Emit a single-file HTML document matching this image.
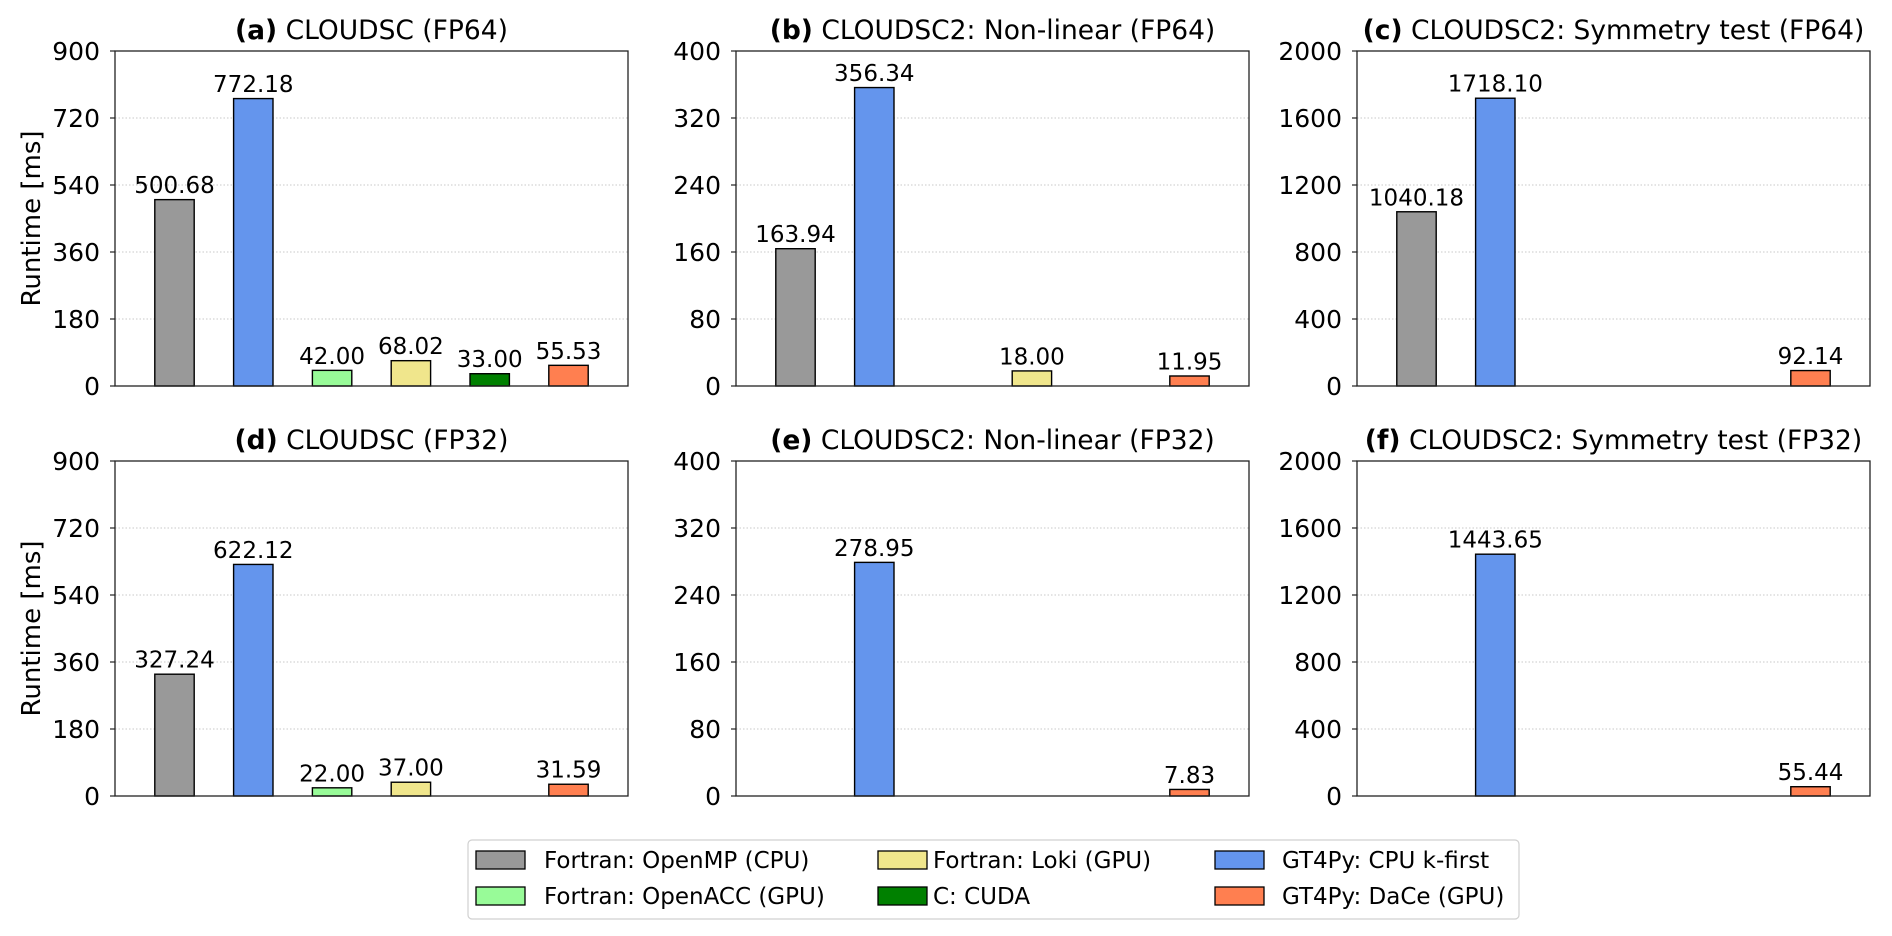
<!DOCTYPE html>
<html><head><meta charset="utf-8"><style>
html,body{margin:0;padding:0;background:#fff;}
svg{display:block;font-family:"DejaVu Sans","Liberation Sans",sans-serif;}
</style></head><body>
<svg id="chart" width="1892" height="936" viewBox="0 0 1892 936" xmlns="http://www.w3.org/2000/svg"></svg>
<script>
const seriesNames = ["Fortran: OpenMP (CPU)","GT4Py: CPU k-first","Fortran: OpenACC (GPU)","Fortran: Loki (GPU)","C: CUDA","GT4Py: DaCe (GPU)"];
const seriesColors = ["#999999","#6495ED","#98FB98","#F0E68C","#008000","#FF7F50"];
const panelTitlesBold = ["(a)","(b)","(c)","(d)","(e)","(f)"];
const panelTitles = ["CLOUDSC (FP64)","CLOUDSC2: Non-linear (FP64)","CLOUDSC2: Symmetry test (FP64)","CLOUDSC (FP32)","CLOUDSC2: Non-linear (FP32)","CLOUDSC2: Symmetry test (FP32)"];
const valuesA = [500.68, 772.18, 42.00, 68.02, 33.00, 55.53];
const valuesB = [163.94, 356.34, null, 18.00, null, 11.95];
const valuesC = [1040.18, 1718.10, null, null, null, 92.14];
const valuesD = [327.24, 622.12, 22.00, 37.00, null, 31.59];
const valuesE = [null, 278.95, null, null, null, 7.83];
const valuesF = [null, 1443.65, null, null, null, 55.44];
const ticks900 = [0,180,360,540,720,900];
const ticks400 = [0,80,160,240,320,400];
const ticks2000 = [0,400,800,1200,1600,2000];

const panelValues = [valuesA,valuesB,valuesC,valuesD,valuesE,valuesF];
const panelTicks = [ticks900,ticks400,ticks2000,ticks900,ticks400,ticks2000];
const NS = "http://www.w3.org/2000/svg";
const svg = document.getElementById('chart');
function mk(tag, attrs, parent){const e=document.createElementNS(NS,tag);for(const k in attrs)e.setAttribute(k,attrs[k]);(parent||svg).appendChild(e);return e;}

const lefts=[115,736,1357], tops=[51,461], W=513, H=335;
panelValues.forEach((vals,p)=>{
  const x0=lefts[p%3], y0=tops[Math.floor(p/3)];
  const tk=panelTicks[p], ymax=tk[tk.length-1];
  const g=mk('g',{});
  
  
  const yS=v=>y0+H-v/ymax*H;
  const xS=i=>x0+(i+0.755)/6.51*W;
  const bw=0.5/6.51*W;
  tk.forEach(t=>{
    const y=yS(t);
    if(t>0&&t<ymax){const gl=mk('line',{x1:x0,x2:x0+W,y1:y,y2:y,stroke:'#c8c8c8','stroke-width':1,'stroke-dasharray':'1.5,2'},g);
      }
    mk('line',{x1:x0-5,x2:x0,y1:y,y2:y,stroke:'#222','stroke-width':1.2},g);
    const tl=mk('text',{x:x0-15,y:y+9,'text-anchor':'end','font-size':25,fill:'#000'},g);
    tl.textContent=t;
    
  });
  vals.forEach((v,i)=>{
    if(v===null)return;
    const cx=xS(i), yt=yS(v);
    const r=mk('rect',{x:cx-bw/2,y:yt,width:bw,height:y0+H-yt,fill:seriesColors[i],stroke:'#000','stroke-width':1.4},g);
    
    
    const lb=mk('text',{x:cx,y:yt-6.5,'text-anchor':'middle','font-size':23,fill:'#000'},g);
    lb.textContent=v.toFixed(2);
    
  });
  const fr=mk('rect',{x:x0,y:y0,width:W,height:H,fill:'none',stroke:'#222','stroke-width':1.3},g);
  
  const tt=mk('text',{x:x0+W/2,y:y0-12,'text-anchor':'middle','font-size':26.5,fill:'#000'},g);
  
  const b=mk('tspan',{'font-weight':'bold'},tt);b.textContent=panelTitlesBold[p];
  const n=mk('tspan',{},tt);n.textContent=' '+panelTitles[p];
  if(p%3===0){
    const cy=y0+H/2;
    const yl=mk('text',{x:0,y:0,'text-anchor':'middle','font-size':26,fill:'#000',transform:`translate(40,${cy}) rotate(-90)`},g);
    yl.textContent='Runtime [ms]';
    
  }
});
const lg=mk('g',{});

mk('rect',{x:468,y:840,width:1051,height:79,rx:4,fill:'#fff',stroke:'#d0d0d0','stroke-width':1.2},lg);
const patchX=[476,878,1215], textX=[544,933,1282], rowY=[851,887];
const legItems=[[0,0],[0,2],[1,3],[1,4],[2,1],[2,5]];
legItems.forEach(([c,s],k)=>{
  const r=k%2;
  const e=mk('g',{},lg);
  
  mk('rect',{x:patchX[c],y:rowY[r],width:49,height:18,fill:seriesColors[s],stroke:'#000','stroke-width':1.3},e);
  const t=mk('text',{x:textX[c],y:rowY[r]+17,'font-size':23,fill:'#000'},e);
  t.textContent=seriesNames[s];
});
</script>
</body></html>
